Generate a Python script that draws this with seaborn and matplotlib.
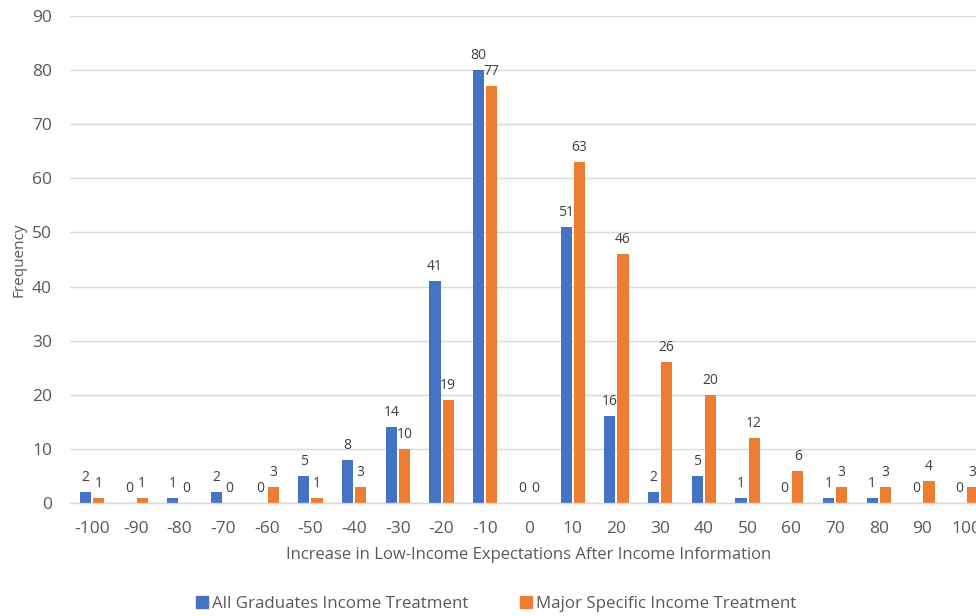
import matplotlib
matplotlib.use("Agg")
import matplotlib.pyplot as plt
from matplotlib.lines import Line2D
import pandas as pd
import seaborn as sns

# Histogram of changes in low-income expectations, by treatment group
bins = [-100, -90, -80, -70, -60, -50, -40, -30, -20, -10, 0,
        10, 20, 30, 40, 50, 60, 70, 80, 90, 100]
all_graduates = [2, 0, 1, 2, 0, 5, 8, 14, 41, 80, 0,
                 51, 16, 2, 5, 1, 0, 1, 1, 0, 0]
major_specific = [1, 1, 0, 0, 3, 1, 3, 10, 19, 77, 0,
                  63, 46, 26, 20, 12, 6, 3, 3, 4, 3]
series_names = ["All Graduates Income Treatment", "Major Specific Income Treatment"]
colors = ["#4472C4", "#ED7D31"]

df = pd.DataFrame({
    "bin": [str(b) for b in bins] * 2,
    "count": all_graduates + major_specific,
    "series": [series_names[0]] * len(bins) + [series_names[1]] * len(bins),
})

sns.set_theme(style="white")
plt.rcParams["font.family"] = ["Open Sans", "DejaVu Sans"]
text_color = "#595959"

fig = plt.figure(figsize=(9.76, 6.16), dpi=100)
ax = fig.add_axes([70 / 976, 1 - 503 / 616, (988 - 70) / 976, (503 - 16) / 616])

sns.barplot(data=df, x="bin", y="count", hue="series", hue_order=series_names,
            order=[str(b) for b in bins], palette=colors, width=0.6, gap=0.15,
            saturation=1, legend=False, linewidth=0, ax=ax)

for container in ax.containers:
    ax.bar_label(container, fmt="%d", padding=5, fontsize=10, color="#404040")

ax.set_ylim(0, 90)
ax.set_yticks(range(0, 91, 10))
ax.set_xlim(-0.5, len(bins) - 0.5)
ax.yaxis.grid(True, color="#D9D9D9", linewidth=1)
ax.set_axisbelow(True)
for side in ["top", "right", "left"]:
    ax.spines[side].set_visible(False)
ax.spines["bottom"].set_color("#D9D9D9")
ax.spines["bottom"].set_linewidth(1)

ax.tick_params(axis="both", length=0, labelsize=12.5, labelcolor=text_color)
ax.tick_params(axis="x", pad=13)
ax.tick_params(axis="y", pad=13)

ax.set_xlabel("Increase in Low-Income Expectations After Income Information",
              fontsize=12, color=text_color, labelpad=7)
ax.set_ylabel("Frequency", fontsize=11, color=text_color)
ax.yaxis.set_label_coords(-44 / 918, 0.5)

handles = [Line2D([0], [0], marker="s", linestyle="none", markersize=8.5,
                  markerfacecolor=c, markeredgecolor=c) for c in colors]
fig.legend(handles, series_names, loc="center", bbox_to_anchor=(0.508, 0.02),
           ncol=2, frameon=False, fontsize=12.2, labelcolor=text_color,
           handletextpad=0.2, columnspacing=3.0, handlelength=0.8)

fig.savefig("out.png", dpi=100)
